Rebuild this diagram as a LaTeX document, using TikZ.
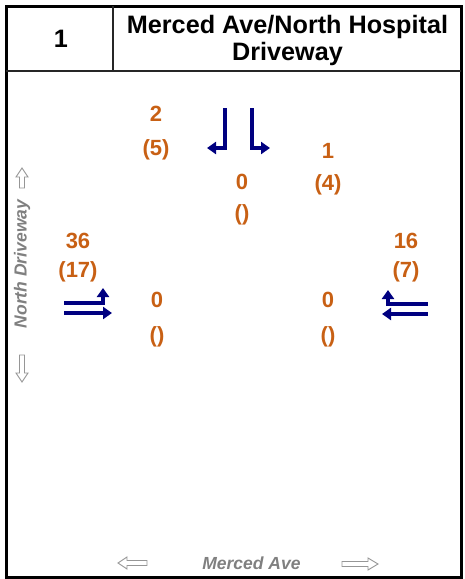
\documentclass[tikz,border=0pt]{standalone}
\usepackage{fontspec}
\setmainfont{Liberation Sans}
\usetikzlibrary{arrows.meta}
\definecolor{volorange}{RGB}{200,96,20}
\definecolor{navyblue}{RGB}{0,0,128}
\definecolor{streetgray}{RGB}{128,128,128}
\definecolor{outlinegray}{RGB}{150,150,150}
\begin{document}
\begin{tikzpicture}[x=1pt,y=-1pt,
  vol/.style={font=\fontsize{22}{25}\selectfont\bfseries, text=volorange, anchor=base, inner sep=0pt},
  titletext/.style={font=\fontsize{25.2}{28}\selectfont\bfseries, anchor=base, inner sep=0pt},
  street/.style={font=\fontsize{17.5}{20}\selectfont\bfseries\itshape, text=streetgray, inner sep=0pt},
  mov/.style={draw=navyblue, line width=3.2pt, -{Triangle[length=9pt,width=12pt]}},
  hollow/.style={draw=outlinegray, fill=white, line width=0.9pt, line join=miter},
  frameline/.style={line width=3pt},
  gridline/.style={line width=1.5pt, draw=black!85}]
\useasboundingbox (0,0) rectangle (464,579);
% frame and header
\draw[frameline] (6,6) rectangle (461,577);
\draw[gridline] (6,71) -- (461,71);
\draw[gridline] (113,6) -- (113,71);
\node[titletext] (num) at (61,47) {1};
\node[titletext] (t1) at (287.5,33) {Merced Ave/North Hospital};
\node[titletext] (t2) at (287.5,60) {Driveway};
% movement arrows
\coordinate (sblA) at (225,108); \coordinate (sblB) at (207,148);
\coordinate (sbrA) at (252,108); \coordinate (sbrB) at (270,148);
\coordinate (eblA) at (64,303);  \coordinate (eblB) at (103,288);
\coordinate (ebtA) at (64,313);  \coordinate (ebtB) at (112,313);
\coordinate (wbrA) at (428,304); \coordinate (wbrB) at (388,290);
\coordinate (wbtA) at (428,314); \coordinate (wbtB) at (382,314);
\draw[mov] (sblA) |- (sblB);
\draw[mov] (sbrA) |- (sbrB);
\draw[mov] (eblA) -| (eblB);
\draw[mov] (ebtA) -- (ebtB);
\draw[mov] (wbrA) -| (wbrB);
\draw[mov] (wbtA) -- (wbtB);
% hollow direction arrows
\draw[hollow] (22,168) -- (28,177) -- (24.5,177) -- (24.5,188) -- (19.5,188) -- (19.5,177) -- (16,177) -- cycle;
\draw[hollow] (22,382) -- (28,373) -- (24.5,373) -- (24.5,355) -- (19.5,355) -- (19.5,373) -- (16,373) -- cycle;
\draw[hollow] (118,563) -- (127,557) -- (127,560.5) -- (147,560.5) -- (147,565.5) -- (127,565.5) -- (127,569) -- cycle;
\draw[hollow] (378,564) -- (368,558) -- (368,561.5) -- (342,561.5) -- (342,566.5) -- (368,566.5) -- (368,570) -- cycle;
% street names
\node[street, rotate=90] (nd) at (22,264) {North Driveway};
\node[street] (ma) at (251.5,563) {Merced Ave};
% volumes
\node[vol] (sblv) at (156,121) {2};
\node[vol] (sblp) at (156,155) {(5)};
\node[vol] (sbrv) at (328,158) {1};
\node[vol] (sbrp) at (328,190) {(4)};
\node[vol] (sbtv) at (242,189) {0};
\node[vol] (sbtp) at (242,220) {()};
\node[vol] (eblv) at (78,248) {36};
\node[vol] (eblp) at (78,277) {(17)};
\node[vol] (wbrv) at (406,248) {16};
\node[vol] (wbrp) at (406,277) {(7)};
\node[vol] (ebtv) at (157,307) {0};
\node[vol] (ebtp) at (157,342) {()};
\node[vol] (wbtv) at (328,307) {0};
\node[vol] (wbtp) at (328,342) {()};
\end{tikzpicture}
\end{document}
